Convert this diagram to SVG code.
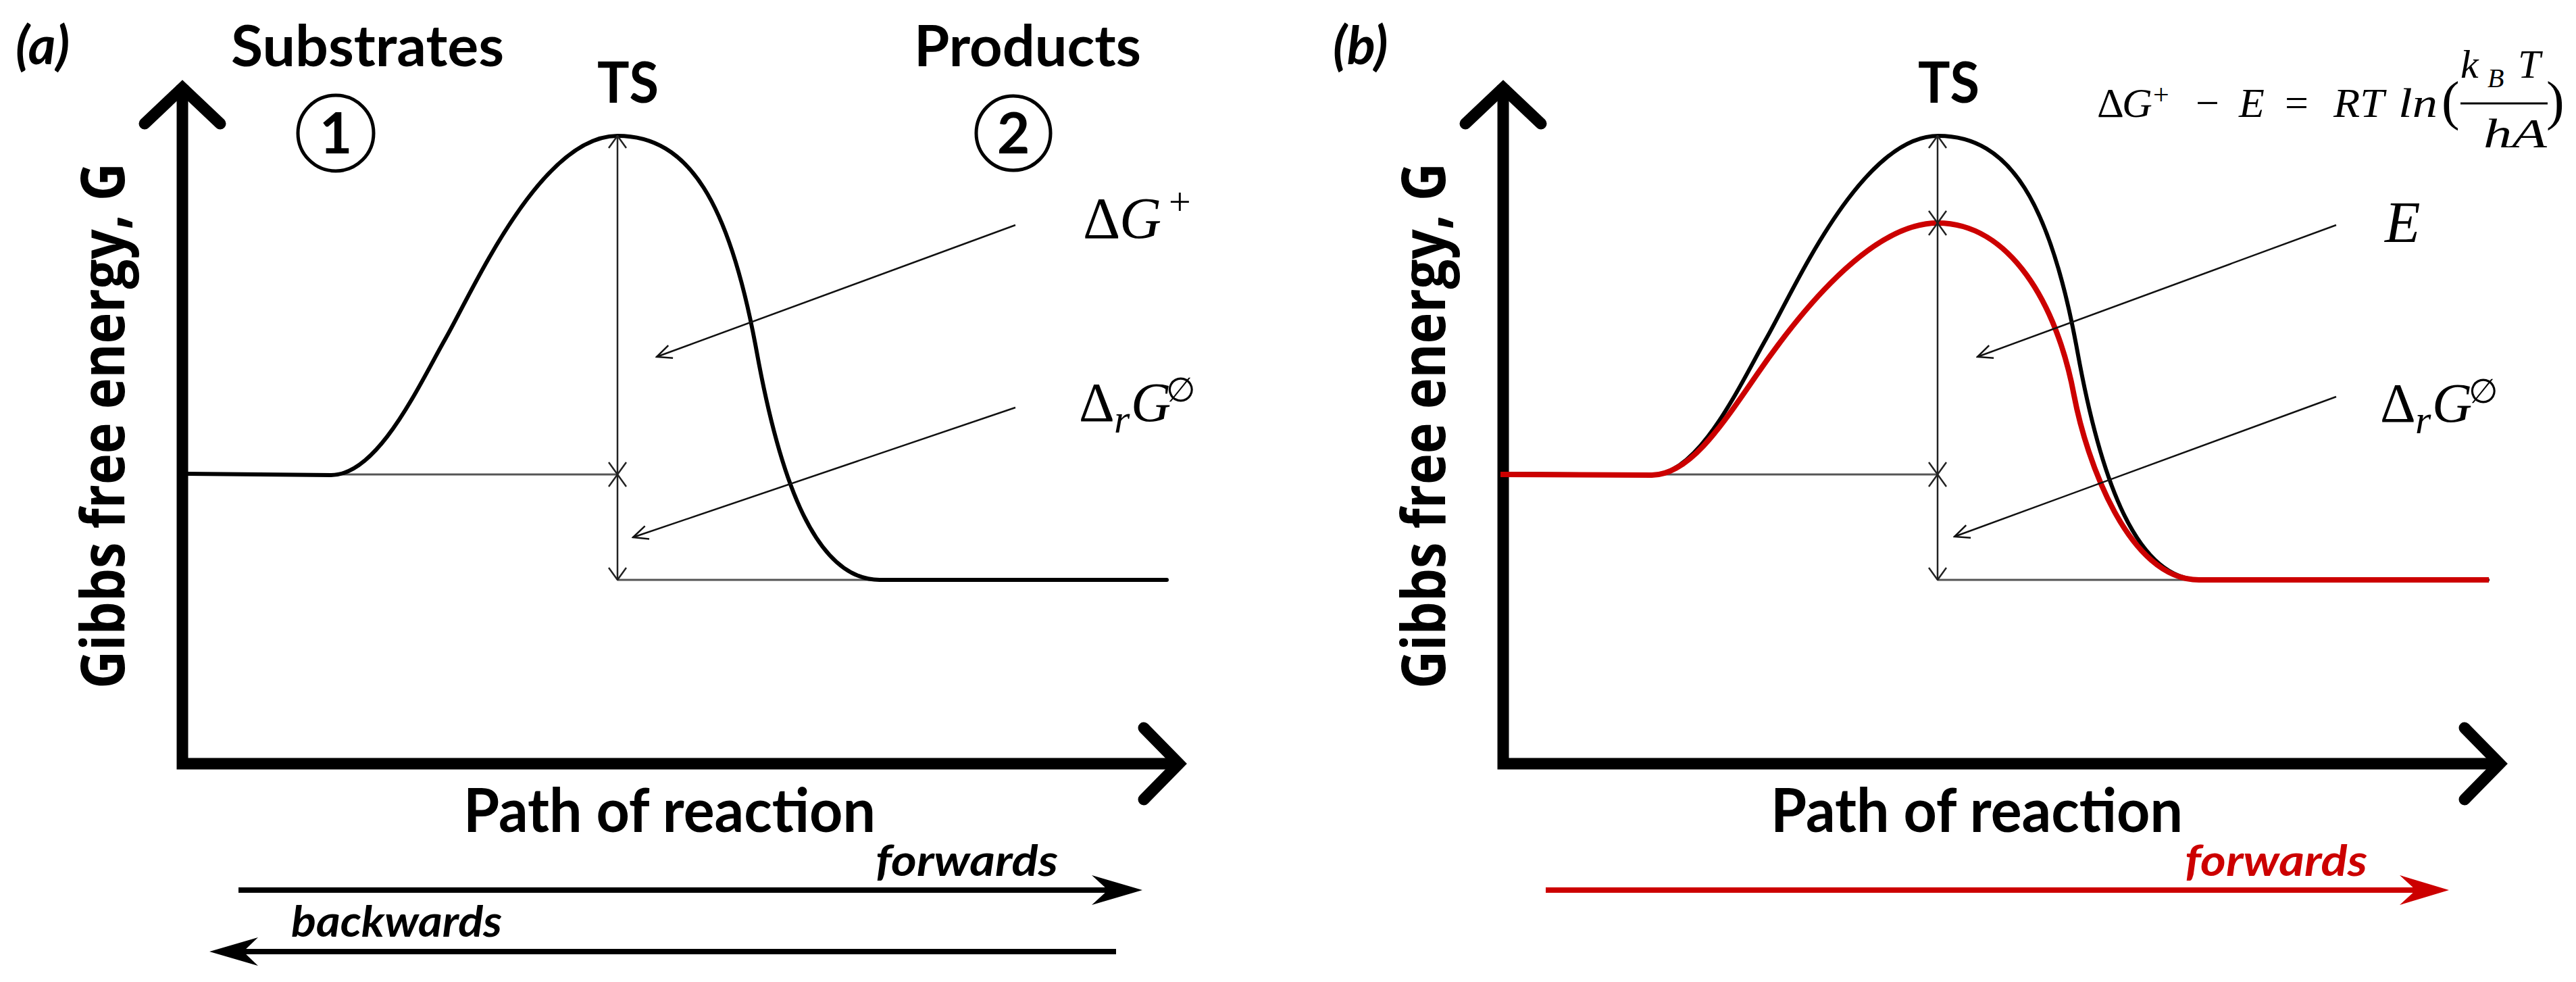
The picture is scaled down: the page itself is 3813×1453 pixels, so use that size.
<svg xmlns="http://www.w3.org/2000/svg" width="3813" height="1453" viewBox="0 0 3813 1453">
<style>
.axis{fill:none;stroke:#000;stroke-width:17;stroke-linejoin:miter;stroke-linecap:butt}
.axhead{fill:none;stroke:#000;stroke-width:17;stroke-linecap:round;stroke-linejoin:miter}
.curve{fill:none;stroke:#000;stroke-width:6;stroke-linecap:round;stroke-linejoin:round}
.redc{fill:none;stroke:#cc0000;stroke-width:8;stroke-linecap:butt;stroke-linejoin:round}
.guide{fill:none;stroke:#555;stroke-width:3}
.dim{fill:none;stroke:#222;stroke-width:2.5;marker-start:url(#dimhead);marker-end:url(#dimhead)}
.ptr{fill:none;stroke:#111;stroke-width:2.5;marker-end:url(#ptrhead)}
.lbl{font-family:Lato,'Open Sans','Liberation Sans',sans-serif;font-weight:700;fill:#000}
.ylbl{font-family:'Open Sans',Lato,'Liberation Sans',sans-serif;font-weight:700;font-size:90px;fill:#000}
.it{font-style:italic}
.math{font-family:'Liberation Serif','DejaVu Serif',serif;fill:#000}
.num{fill:none;stroke:#000;stroke-width:5}
.dirline{fill:none;stroke-width:8}
</style>
<defs>
<marker id="dimhead" markerUnits="userSpaceOnUse" viewBox="0 0 20 28" markerWidth="20" markerHeight="28" refX="19" refY="14" orient="auto-start-reverse">
<path d="M1,1 L19,14 L1,27" fill="none" stroke="#222" stroke-width="2.5"/>
</marker>
<marker id="ptrhead" markerUnits="userSpaceOnUse" viewBox="0 0 26 26" markerWidth="26" markerHeight="26" refX="24" refY="13" orient="auto">
<path d="M2,3 L24,13 L2,23" fill="none" stroke="#111" stroke-width="2.5"/>
</marker>
</defs>
<rect width="3813" height="1453" fill="#fff"/>

<!-- Panel (a) -->
<g id="panel-a">
<g id="a-axes">
<path class="axis" d="M270,126 L270,1130 L1746,1130"/>
<polyline class="axhead" points="214,183 270,130 326,183"/>
<polyline class="axhead" points="1693,1077 1745,1130 1693,1183"/>
</g>
<g id="a-guides">
<line class="guide" x1="499" y1="702" x2="914" y2="702"/>
<line class="guide" x1="914" y1="858" x2="1302" y2="858"/>
</g>
<path id="a-curve" class="curve" d="M278,701 L490,703 C560,703 620,570 660,500 C700,430 800,201 914,201 C1020,201 1080,300 1120,520 C1150,685 1200,858 1302,858 L1727,858"/>
<text id="a-tag" class="lbl it" x="23" y="95" font-size="78">(a)</text>
<g id="a-substrates">
<text class="lbl" x="342" y="98" font-size="84" textLength="404" lengthAdjust="spacingAndGlyphs">Substrates</text>
<circle class="num" cx="497" cy="197" r="56"/>
<text class="lbl" x="497" y="227" font-size="84" text-anchor="middle">1</text>
</g>
<g id="a-products">
<text class="lbl" x="1353" y="98" font-size="84" textLength="336" lengthAdjust="spacingAndGlyphs">Products</text>
<circle class="num" cx="1500" cy="197" r="55"/>
<text class="lbl" x="1500" y="227" font-size="84" text-anchor="middle">2</text>
</g>
<text id="a-ts" class="lbl" x="884" y="152" font-size="85" textLength="91" lengthAdjust="spacingAndGlyphs">TS</text>
<text id="a-ylabel" class="ylbl" transform="translate(184,1019) rotate(-90)" x="0" y="0" textLength="778" lengthAdjust="spacingAndGlyphs">Gibbs free energy, G</text>
<text id="a-xlabel" class="lbl" x="686" y="1231" font-size="90" textLength="610" lengthAdjust="spacingAndGlyphs">Path of reaction</text>
<g id="a-dG">
<text class="math" x="1603" y="352" font-size="86">Δ</text>
<text class="math it" x="1657" y="352" font-size="86">G</text>
<text class="math" x="1730" y="318" font-size="58">+</text>
</g>
<g id="a-drG">
<text class="math" x="1597" y="623" font-size="82">Δ</text>
<text class="math it" x="1649" y="640" font-size="60">r</text>
<text class="math it" x="1674" y="623" font-size="82">G</text>
<text class="math" x="1726" y="594" font-size="50">∅</text>
</g>
<g id="a-forwards">
<line class="dirline" stroke="#000" x1="353" y1="1317" x2="1645" y2="1317"/>
<polygon fill="#000" points="1691,1317 1616,1295 1640,1317 1616,1339"/>
<text class="lbl it" x="1296" y="1296" font-size="64" textLength="270" lengthAdjust="spacingAndGlyphs">forwards</text>
</g>
<g id="a-backwards">
<line class="dirline" stroke="#000" x1="355" y1="1408" x2="1652" y2="1408"/>
<polygon fill="#000" points="310,1408 382,1387 360,1408 382,1429"/>
<text class="lbl it" x="431" y="1386" font-size="64" textLength="312" lengthAdjust="spacingAndGlyphs">backwards</text>
</g>
</g>

<!-- Panel (b) -->
<g id="panel-b">
<g id="b-axes">
<path class="axis" d="M2225,126 L2225,1130 L3701,1130"/>
<polyline class="axhead" points="2169,183 2225,130 2281,183"/>
<polyline class="axhead" points="3648,1077 3700,1130 3648,1183"/>
</g>
<g id="b-guides">
<line class="guide" x1="2454" y1="702" x2="2868" y2="702"/>
<line class="guide" x1="2868" y1="858" x2="3257" y2="858"/>
</g>
<path id="b-curve-uncat" class="curve" stroke-width="5" transform="translate(1955,0)" d="M278,701 L490,703 C560,703 620,570 660,500 C700,430 800,201 914,201 C1020,201 1080,300 1120,520 C1150,685 1200,858 1302,858 L1727,858"/>
<path id="b-curve-cat" class="redc" d="M2221,702 L2445,703 C2500,702 2545,635 2600,555 C2644,491 2760,330 2868,330 C2975,330 3045,450 3070,585 C3088,680 3150,858 3255,858 L3684,858"/>
<text id="b-tag" class="lbl it" x="1973" y="95" font-size="78">(b)</text>
<text id="b-ts" class="lbl" x="2839" y="152" font-size="85" textLength="91" lengthAdjust="spacingAndGlyphs">TS</text>
<text id="b-ylabel" class="ylbl" transform="translate(2139,1019) rotate(-90)" x="0" y="0" textLength="778" lengthAdjust="spacingAndGlyphs">Gibbs free energy, G</text>
<text id="b-xlabel" class="lbl" x="2621" y="1231" font-size="90" textLength="610" lengthAdjust="spacingAndGlyphs">Path of reaction</text>
<g id="b-equation">
<text class="math" x="3104" y="173" font-size="62">Δ</text>
<text class="math it" x="3141" y="173" font-size="62">G</text>
<text class="math" x="3187" y="154" font-size="42">+</text>
<text class="math" x="3250" y="173" font-size="62">−</text>
<text class="math it" x="3314" y="173" font-size="62">E</text>
<text class="math" x="3382" y="173" font-size="62">=</text>
<text class="math it" x="3454" y="173" font-size="62" textLength="75" lengthAdjust="spacingAndGlyphs">RT</text>
<text class="math it" x="3550" y="173" font-size="62" textLength="58" lengthAdjust="spacingAndGlyphs">ln</text>
<text class="math" x="3614" y="176" font-size="80">(</text>
<text class="math it" x="3642" y="115" font-size="60">k</text>
<text class="math it" x="3682" y="129" font-size="40">B</text>
<text class="math it" x="3727" y="115" font-size="60">T</text>
<line x1="3642" y1="153" x2="3771" y2="153" stroke="#000" stroke-width="3"/>
<text class="math it" x="3676" y="218" font-size="62" textLength="94" lengthAdjust="spacingAndGlyphs">hA</text>
<text class="math" x="3769" y="176" font-size="80">)</text>
</g>
<g id="b-E">
<text class="math it" x="3530" y="358" font-size="86">E</text>
</g>
<g id="b-drG">
<text class="math" x="3523" y="624" font-size="82">Δ</text>
<text class="math it" x="3575" y="641" font-size="60">r</text>
<text class="math it" x="3600" y="624" font-size="82">G</text>
<text class="math" x="3654" y="596" font-size="50">∅</text>
</g>
<g id="b-forwards">
<line class="dirline" stroke="#cc0000" x1="2288" y1="1317" x2="3580" y2="1317"/>
<polygon fill="#cc0000" points="3625,1317 3552,1295 3576,1317 3552,1339"/>
<text class="lbl it" x="3234" y="1296" font-size="64" style="fill:#cc0000" textLength="270" lengthAdjust="spacingAndGlyphs">forwards</text>
</g>
</g>

<!-- Connectors -->
<g id="connectors">
<line class="dim" x1="914" y1="201" x2="914" y2="702"/>
<line class="dim" x1="914" y1="702" x2="914" y2="858"/>
<line class="ptr" x1="1503" y1="333" x2="972" y2="528"/>
<line class="ptr" x1="1503" y1="603" x2="937" y2="795"/>
<line class="dim" x1="2868" y1="201" x2="2868" y2="330"/>
<line class="dim" x1="2868" y1="330" x2="2868" y2="702"/>
<line class="dim" x1="2868" y1="702" x2="2868" y2="858"/>
<line class="ptr" x1="3458" y1="333" x2="2927" y2="528"/>
<line class="ptr" x1="3458" y1="587" x2="2893" y2="794"/>
</g>
</svg>
